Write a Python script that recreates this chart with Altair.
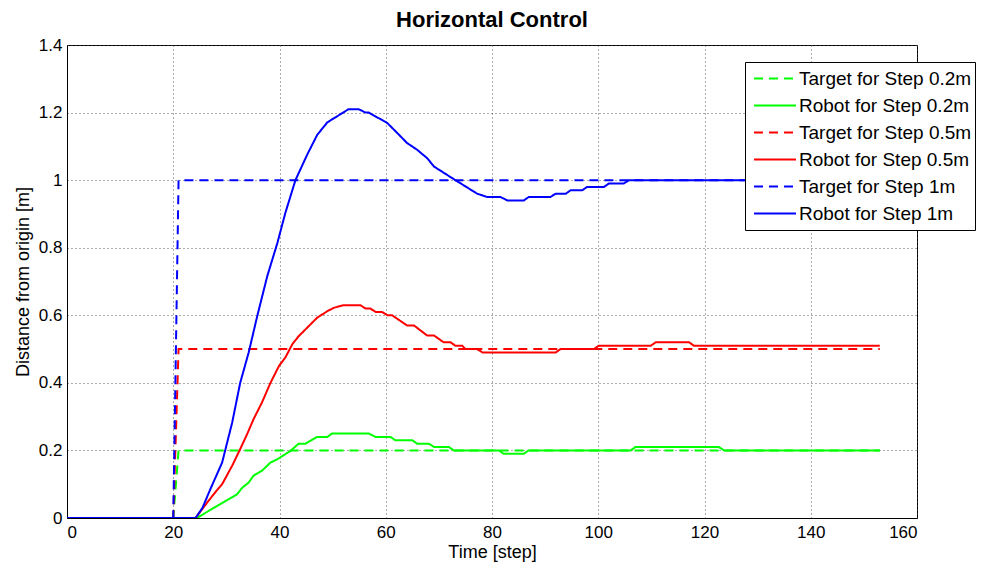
import altair as alt
import pandas as pd

# ---------------- data ----------------
series_names = [
    "Target for Step 0.2m",
    "Robot for Step 0.2m",
    "Target for Step 0.5m",
    "Robot for Step 0.5m",
    "Target for Step 1m",
    "Robot for Step 1m",
]
series_colors = ["#00ff00", "#00ff00", "#ff0000", "#ff0000", "#0000ff", "#0000ff"]
series_dashes = [[9, 6], [1, 0], [9, 6], [1, 0], [9, 6], [1, 0]]

x_ticks = [0, 20, 40, 60, 80, 100, 120, 140, 160]
y_ticks = [0, 0.2, 0.4, 0.6, 0.8, 1.0, 1.2, 1.4]

t_target = [0, 20, 21, 153]
target_02 = [0, 0, 0.2, 0.2]
target_05 = [0, 0, 0.5, 0.5]
target_1 = [0, 0, 1.0, 1.0]

t_robot_02 = [0, 24.4, 32.0, 33.0, 34.2, 35.1, 36.7, 38.3, 39.6, 42.1, 43.6, 44.9,
              47.1, 49.0, 49.9, 56.8, 58.1, 60.9, 61.8, 65.0, 65.9, 68.1, 69.1,
              71.9, 72.8, 81.3, 82.2, 86.0, 86.9, 106.1, 107.0, 122.7, 123.7, 153]
robot_02 = [0, 0, 0.07, 0.09, 0.105, 0.125, 0.14, 0.164, 0.174, 0.199, 0.22, 0.22,
            0.24, 0.24, 0.25, 0.25, 0.24, 0.24, 0.23, 0.23, 0.22, 0.22, 0.21,
            0.21, 0.20, 0.20, 0.19, 0.19, 0.20, 0.20, 0.21, 0.21, 0.20, 0.20]

t_robot_05 = [0, 24.2, 26.4, 27.9, 29.2, 31.1, 32.6, 33.9, 35.1, 36.7, 38.3, 39.9,
              41.1, 42.4, 43.6, 45.2, 47.1, 49.0, 50.2, 52.1, 55.2, 56.2, 57.1,
              58.1, 59.3, 60.3, 61.2, 64.0, 65.3, 67.8, 69.1, 70.9, 72.2, 73.1,
              74.4, 75.0, 77.2, 78.2, 92.0, 92.9, 99.2, 100.1, 109.9, 110.8,
              117.1, 118.0, 153]
robot_05 = [0, 0, 0.046, 0.076, 0.10, 0.155, 0.204, 0.248, 0.292, 0.342, 0.40, 0.45,
            0.475, 0.514, 0.538, 0.563, 0.593, 0.612, 0.622, 0.63, 0.63, 0.62, 0.62,
            0.61, 0.61, 0.60, 0.60, 0.57, 0.57, 0.54, 0.54, 0.52, 0.52, 0.51,
            0.51, 0.50, 0.50, 0.49, 0.49, 0.50, 0.50, 0.51, 0.51, 0.52,
            0.52, 0.51, 0.51]

t_robot_1 = [0, 24.2, 25.5, 27.0, 29.2, 31.1, 32.6, 34.2, 35.8, 37.7, 39.6, 41.1,
             43.0, 45.2, 47.1, 49.0, 53.0, 54.9, 56.2, 56.8, 60.3, 62.2, 64.0,
             65.9, 67.8, 69.1, 72.2, 77.2, 79.1, 81.6, 82.9, 86.0, 86.9, 91.0,
             92.0, 93.9, 94.8, 97.0, 97.9, 101.1, 102.0, 104.8, 105.8, 153]
robot_1 = [0, 0, 0.03, 0.086, 0.164, 0.283, 0.40, 0.49, 0.597, 0.716, 0.814, 0.903,
           1.0, 1.075, 1.134, 1.171, 1.21, 1.21, 1.20, 1.20, 1.169, 1.139, 1.11,
           1.09, 1.065, 1.04, 1.009, 0.96, 0.95, 0.95, 0.94, 0.94, 0.95, 0.95,
           0.96, 0.96, 0.97, 0.97, 0.98, 0.98, 0.99, 0.99, 1.0, 1.0]

all_times = [t_target, t_robot_02, t_target, t_robot_05, t_target, t_robot_1]
all_values = [target_02, robot_02, target_05, robot_05, target_1, robot_1]

rows = []
for name, ts, vs in zip(series_names, all_times, all_values):
    for i, (t, v) in enumerate(zip(ts, vs)):
        rows.append({"series": name, "time": t, "value": v, "idx": i})
df = pd.DataFrame(rows)

FONT = "Liberation Sans"

x_enc = alt.X("time:Q", scale=alt.Scale(domain=[0, 160], nice=False),
              axis=alt.Axis(values=x_ticks, title="Time [step]", labelPadding=6,
                            titlePadding=3, format="d"))
y_enc = alt.Y("value:Q", scale=alt.Scale(domain=[0, 1.4], nice=False),
              axis=alt.Axis(values=y_ticks, title="Distance from origin [m]",
                            labelPadding=5, titlePadding=6, format="~g"))
color_enc = alt.Color("series:N",
                      scale=alt.Scale(domain=series_names, range=series_colors),
                      legend=alt.Legend(title=None))
dash_enc = alt.StrokeDash("series:N",
                          scale=alt.Scale(domain=series_names, range=series_dashes),
                          legend=alt.Legend(title=None))

layers = []
for name in series_names:
    layers.append(
        alt.Chart(df)
        .transform_filter(alt.datum.series == name)
        .mark_line(strokeWidth=2, clip=True, strokeCap="butt")
        .encode(x=x_enc, y=y_enc, color=color_enc, strokeDash=dash_enc,
                order=alt.Order("idx:Q"))
    )

chart = (
    alt.layer(*layers)
    .properties(
        width=850,
        height=473,
        title=alt.TitleParams("Horizontal Control", fontSize=22, fontWeight="bold",
                              font=FONT, anchor="middle", baseline="alphabetic",
                              frame="group", offset=16, dy=29, color="black"),
        autosize=alt.AutoSizeParams(type="none"),
        padding={"left": 67, "top": 45, "right": 70, "bottom": 47},
        background="white",
    )
    .configure_view(stroke="black", strokeWidth=1)
    .configure_axis(
        labelFont=FONT, labelFontSize=17, labelColor="black",
        titleFont=FONT, titleFontSize=18, titleFontWeight="normal", titleColor="black",
        domainColor="black", domainWidth=1,
        ticks=False,
        grid=True, gridColor="#444444", gridDash=[1, 3], gridWidth=1, gridOpacity=0.9,
    )
    .configure_legend(
        orient="none", legendX=678, legendY=17,
        fillColor="white", strokeColor="black", padding=3,
        symbolType="stroke", symbolSize=1764, symbolStrokeWidth=2,
        symbolOffset=5, clipHeight=27,
        labelFont=FONT, labelFontSize=19, labelColor="black", labelLimit=400,
        labelOffset=2, rowPadding=0,
    )
)

chart.save("out.html", embed_options={"renderer": "svg", "actions": False})
